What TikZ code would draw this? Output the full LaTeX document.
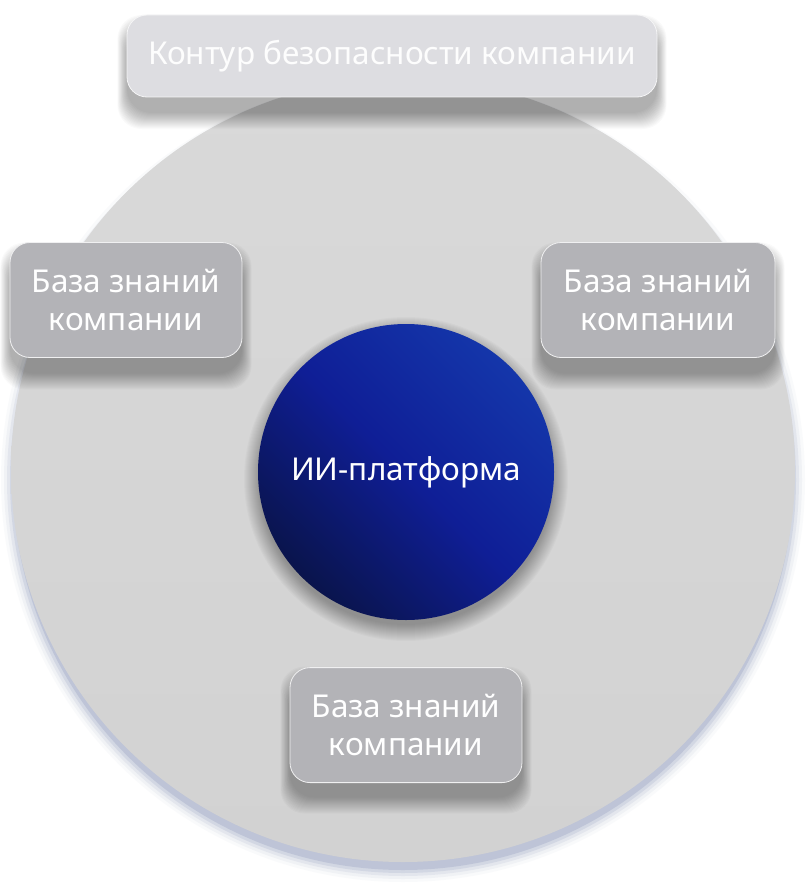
\documentclass[tikz,border=0pt]{standalone}
\usepackage{fontspec}
\setmainfont{Noto Sans}
\usetikzlibrary{positioning}
\definecolor{ringgray}{HTML}{D2D2D2}
\definecolor{ringtop}{HTML}{D9D9D9}
\definecolor{rimblue}{HTML}{9AA3C3}
\definecolor{boxgray}{HTML}{B3B3B7}
\definecolor{tagfill}{HTML}{DDDDE1}
\definecolor{coreblue}{HTML}{1436AA}
\definecolor{coremid}{HTML}{0F1E96}
\definecolor{coredark}{HTML}{0A144C}
\tikzset{
  kbox/.style={rectangle,rounded corners=20pt,draw=white!80!boxgray,line width=0.8pt,
    fill=boxgray,text=white,minimum width=232pt,minimum height=115pt,align=center,
    font=\fontsize{31.5}{38}\selectfont},
  contourbox/.style={kbox,fill=tagfill,draw=white!70!tagfill,minimum width=530pt,minimum height=82pt,
    text=white!95!tagfill},
  ring/.style={circle,minimum size=784pt,inner sep=0pt,top color=ringtop,bottom color=ringgray},
  core/.style={circle,minimum size=296pt,inner sep=0pt,text=white,font=\fontsize{31.5}{38}\selectfont,
    left color=coredark,right color=coreblue,middle color=coremid,shading angle=135},
  soft/.style={black,opacity=0.018}
}
\begin{document}
\begin{tikzpicture}[x=1pt,y=-1pt]
  \fill [white] (0,0) rectangle (808,888);
  \useasboundingbox (0,0) rectangle (808,888);
  % bluish rim under the ring
  \foreach \d/\o in {12/0.05,9/0.09,6/0.14,3/0.22,0/0.35}
    \fill [rimblue,opacity=\o] (403,480) circle [radius={(390+\d)*1pt}];
  \node [ring] (ring) at (403,470) {};
  % soft shadows
  \foreach \g in {0,1,...,16}
    \fill [soft] (406,479) circle [radius={(146+\g)*1pt}];
  \foreach \cx/\cy/\w/\h in {126/300/116/57.5,658/300/117/57.5,406/724/116/57.5,392/56/265/41}
    \foreach \g in {0,1,...,16}
      \fill [soft,rounded corners=24pt] (\cx-\w-0.6*\g,\cy-\h-\g+16) rectangle (\cx+\w+0.6*\g,\cy+\h+\g+16);
  \node [core] (platform) at (406,472) {ИИ-платформа};
  \node [kbox] (kbleft) at (126,300) {База знаний\\компании};
  \node [kbox,minimum width=234pt] (kbright) at (658,300) {База знаний\\компании};
  \node [kbox,below=47pt of platform] (kbbottom) {База знаний\\компании};
  \node [contourbox] (contour) at (392,56) {Контур безопасности компании};
\end{tikzpicture}
\end{document}
